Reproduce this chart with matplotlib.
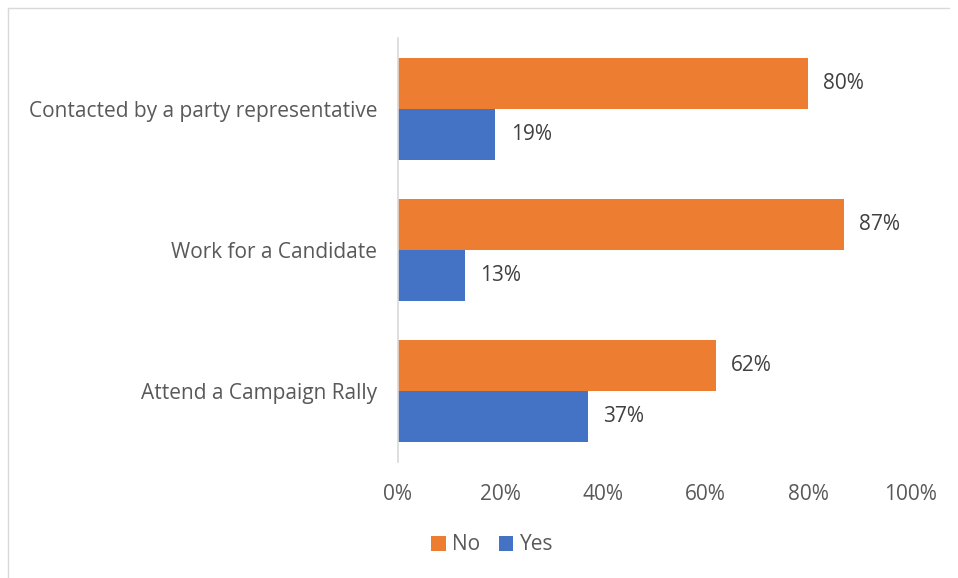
import matplotlib.pyplot as plt
from matplotlib.lines import Line2D
from matplotlib.ticker import PercentFormatter

plt.rcParams['font.family'] = ['Open Sans', 'DejaVu Sans']

categories = ['Contacted by a party representative', 'Work for a Candidate', 'Attend a Campaign Rally']
no_values = [80, 87, 62]
yes_values = [19, 13, 37]
x_ticks = [0, 20, 40, 60, 80, 100]

orange = '#ed7d31'
blue = '#4472c4'
text_grey = '#595959'
fs = 15

fig = plt.figure(figsize=(9.58, 5.78), dpi=100)
W, H = 958, 578
ax = fig.add_axes([398 / W, 1 - 462 / H, (910.5 - 398) / W, (462 - 38) / H])

# chart area outline: only top and left edges fall inside the image
border = dict(transform=fig.transFigure, color='#d9d9d9', linewidth=1)
fig.add_artist(Line2D([8 / W, 949 / W], [1 - 8 / H, 1 - 8 / H], **border))
fig.add_artist(Line2D([8 / W, 8 / W], [0, 1 - 8 / H], **border))

n = len(categories)
pos = list(range(n))[::-1]
bar_h = 0.36

for i, (p, nv, yv) in enumerate(zip(pos, no_values, yes_values)):
    ax.barh(p + bar_h / 2, nv, height=bar_h, color=orange,
            label='No' if i == 0 else None)
    ax.barh(p - bar_h / 2, yv, height=bar_h, color=blue,
            label='Yes' if i == 0 else None)
    ax.text(nv + 3, p + bar_h / 2, f'{nv}%', va='center', ha='left',
            fontsize=fs, color='#404040')
    ax.text(yv + 3, p - bar_h / 2, f'{yv}%', va='center', ha='left',
            fontsize=fs, color='#404040')

ax.set_xlim(0, 100)
ax.set_ylim(-0.5, n - 0.5)
ax.set_yticks(pos)
ax.set_yticklabels(categories, fontsize=fs, color=text_grey)
ax.set_xticks(x_ticks)
ax.xaxis.set_major_formatter(PercentFormatter(decimals=0))
ax.tick_params(axis='x', labelsize=fs, labelcolor=text_grey, length=0, pad=16)
ax.tick_params(axis='y', length=0, pad=15)

for side in ['top', 'right', 'bottom']:
    ax.spines[side].set_visible(False)
ax.spines['left'].set_color('#d9d9d9')
ax.spines['left'].set_linewidth(1.2)

leg = fig.legend(loc='center', bbox_to_anchor=(492 / W, 1 - 545 / H), ncol=2,
                 frameon=False, fontsize=fs, handlelength=0.7, handleheight=0.7,
                 handletextpad=0.3, columnspacing=0.9)
for t in leg.get_texts():
    t.set_color(text_grey)

fig.savefig('out.png', dpi=100)
